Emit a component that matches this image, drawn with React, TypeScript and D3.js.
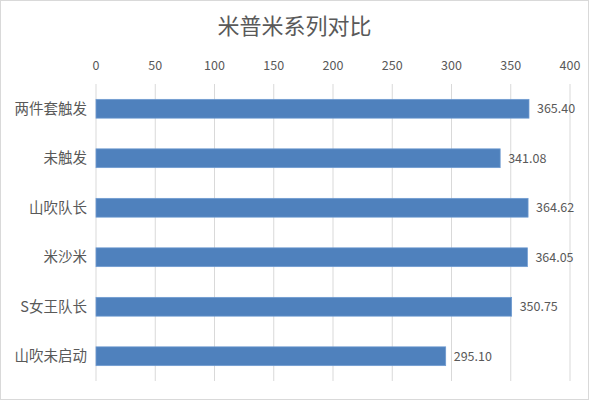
import React from "react";
import * as d3 from "d3";

const categories = ["两件套触发", "未触发", "山吹队长", "米沙米", "S女王队长", "山吹未启动"];
const values = [365.4, 341.08, 364.62, 364.05, 350.75, 295.1];
const ticks = [0, 50, 100, 150, 200, 250, 300, 350, 400];
const title = "米普米系列对比";

const W = 589;
const H = 400;
const left = 96;
const right = 570;
const top = 84;
const bottom = 381;
const font = "'Noto Sans CJK SC', 'Noto Sans', sans-serif";

export default function App() {
  const x = d3.scaleLinear().domain([0, 400]).range([left, right]);
  const y = d3.scaleBand<string>().domain(categories).range([top, bottom]).paddingInner(0.62).paddingOuter(0.31);
  return (
    <div style={{ position: "absolute", left: 0, top: 0 }}>
      <svg width={W} height={H} style={{ display: "block" }}>
        <rect x={0.5} y={0.5} width={W - 1} height={H - 1} fill="#fff" stroke="#d9d9d9" />
        <text x={W / 2} y={34} textAnchor="middle" fontSize={22} fill="#595959" fontFamily={font}>
          {title}
        </text>
        {ticks.map((t) => (
          <g key={t}>
            <line x1={x(t)} x2={x(t)} y1={top} y2={bottom} stroke="#d9d9d9" strokeWidth={1} />
            <text x={x(t)} y={70} textAnchor="middle" fontSize={12.5} fill="#595959" fontFamily={font}>
              {t}
            </text>
          </g>
        ))}
        {categories.map((c, i) => {
          const yy = y(c) as number;
          const bh = y.bandwidth();
          return (
            <g key={c}>
              <rect x={x(0)} y={yy} width={x(values[i]) - x(0)} height={bh} fill="#4f81bd" stroke="#6f9bd1" strokeWidth={0.75} />
              <text x={87} y={yy + bh / 2} dy="0.35em" textAnchor="end" fontSize={14.5} fill="#595959" fontFamily={font}>
                {c}
              </text>
              <text x={x(values[i]) + 8} y={yy + bh / 2} dy="0.35em" textAnchor="start" fontSize={12.5} fill="#595959" fontFamily={font}>
                {values[i].toFixed(2)}
              </text>
            </g>
          );
        })}
      </svg>
    </div>
  );
}
